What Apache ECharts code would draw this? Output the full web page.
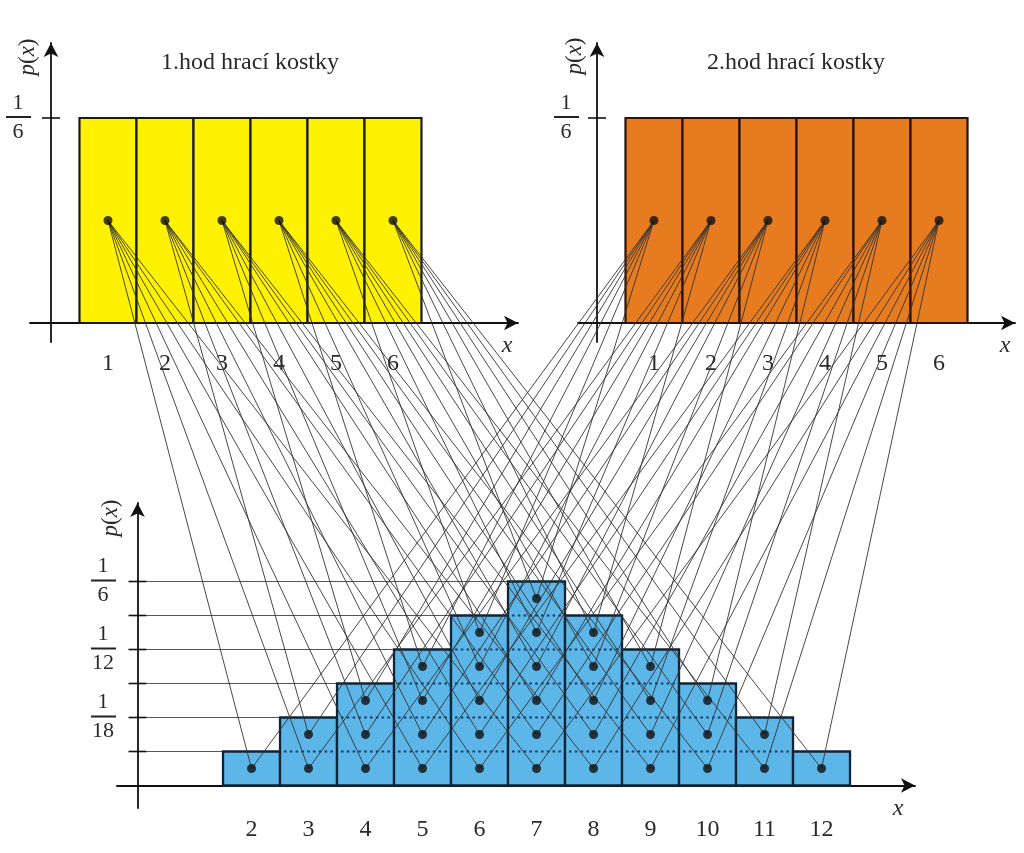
<!DOCTYPE html>
<html><head><meta charset="utf-8">
<script src="https://cdn.jsdelivr.net/npm/echarts@6/dist/echarts.min.js"></script>
<style>html,body{margin:0;padding:0;background:#fff}#c{width:1024px;height:853px}</style>
</head><body><div id="c"></div>
<script>
// ---------- data ----------
const faces = [1, 2, 3, 4, 5, 6];
const die1Prob = [1/6, 1/6, 1/6, 1/6, 1/6, 1/6];
const die2Prob = [1/6, 1/6, 1/6, 1/6, 1/6, 1/6];
const sums = [2, 3, 4, 5, 6, 7, 8, 9, 10, 11, 12];
const sumCounts = [1, 2, 3, 4, 5, 6, 5, 4, 3, 2, 1];   // out of 36
const outcomes = 36;
const topTickValues = [1/6];
const topTickLabels = ['1/6'];
const bottomTickValues = [1, 2, 3, 4, 5, 6].map(k => k / 36);
const bottomLabelValues = [2/36, 4/36, 6/36];          // positions as drawn in the picture
const bottomLabelTexts = ['1/18', '1/12', '1/6'];
const titles = ['1.hod hrací kostky', '2.hod hrací kostky'];

// ---------- styles ----------
const SERIF = '"Liberation Serif","Times New Roman",serif';
const INK = '#111';
const TXT = '#2a2a2a';

function fracFormatter(values, texts) {
  return function (v) {
    for (let i = 0; i < values.length; i++) {
      if (Math.abs(values[i] - v) < 1e-6) {
        const [n, d] = texts[i].split('/');
        return '{n|' + n + '}\n{l|\u00a0}\n{d|' + d + '}';
      }
    }
    return '';
  };
}
const fracRich = {
  n: { fontFamily: SERIF, fontSize: 22, color: TXT, lineHeight: 24, width: 26, align: 'center' },
  l: { width: 25, height: 2, lineHeight: 4, backgroundColor: '#222', fontSize: 2 },
  d: { fontFamily: SERIF, fontSize: 22, color: TXT, lineHeight: 26, width: 26, align: 'center' }
};

function xAxisDef(grid, min, max, labels, nameGap) {
  return {
    gridIndex: grid, type: 'value', min: min, max: max,
    splitLine: { show: false }, axisTick: { show: false },
    axisLine: { onZero: true, symbol: ['none', 'arrow'], symbolSize: [11, 14], lineStyle: { color: INK, width: 1.8 } },
    axisLabel: { customValues: labels, margin: 10, fontFamily: SERIF, fontSize: 24, color: TXT, hideOverlap: false },
    name: 'x', nameLocation: 'end', nameGap: nameGap,
    nameTextStyle: { fontFamily: SERIF, fontStyle: 'italic', fontSize: 24, color: TXT, align: 'center', verticalAlign: 'top', padding: [11, 0, 0, 0] }
  };
}
function yAxisDef(grid, min, max, labelValues, labelTexts, margin) {
  return {
    gridIndex: grid, type: 'value', min: min, max: max, position: 'left',
    splitLine: { show: false }, axisTick: { show: false },
    axisLine: { onZero: true, symbol: ['none', 'arrow'], symbolSize: [11, 14], lineStyle: { color: INK, width: 1.8 } },
    axisLabel: { customValues: labelValues, margin: margin, hideOverlap: false, showMinLabel: true, showMaxLabel: true,
      formatter: fracFormatter(labelValues, labelTexts), rich: fracRich }
  };
}

function barRender(fill, stroke, lw) {
  return function (params, api) {
    const x = api.value(0), h = api.value(1);
    const p1 = api.coord([x - 0.5, h]), p2 = api.coord([x + 0.5, 0]);
    return { type: 'rect', shape: { x: p1[0], y: p1[1], width: p2[0] - p1[0], height: p2[1] - p1[1] },
      style: { fill: fill, stroke: stroke, lineWidth: lw } };
  };
}
function sumBarRender(params, api) {
  const x = api.value(0), h = api.value(1), cnt = api.value(2);
  const p1 = api.coord([x - 0.5, h]), p2 = api.coord([x + 0.5, 0]);
  const children = [{ type: 'rect', shape: { x: p1[0], y: p1[1], width: p2[0] - p1[0], height: p2[1] - p1[1] },
    style: { fill: '#5CB6E8', stroke: '#0f2436', lineWidth: 2.3 } }];
  for (let k = 1; k < cnt; k++) {
    const a = api.coord([x - 0.5, k / outcomes]), b = api.coord([x + 0.5, k / outcomes]);
    children.push({ type: 'line', shape: { x1: a[0] + 4, y1: a[1], x2: b[0] - 3, y2: b[1] },
      style: { stroke: '#143a66', lineWidth: 2, lineDash: [2.5, 3.3] } });
  }
  return { type: 'group', children: children };
}
function crossTickRender(params, api) {
  const p = api.coord([0, api.value(1)]);
  return { type: 'line', shape: { x1: p[0] - 9, y1: p[1], x2: p[0] + 9, y2: p[1] }, style: { stroke: INK, lineWidth: 1.6 } };
}
function gridLineRender(params, api) {
  const v = api.value(1), xe = api.value(2);
  const a = api.coord([0, v]), b = api.coord([xe, v]);
  return { type: 'line', shape: { x1: a[0] + 9, y1: a[1], x2: b[0], y2: b[1] }, style: { stroke: '#555', lineWidth: 1.1 } };
}

// ---------- derived series data ----------
const die1Bars = faces.map((f, i) => [f, die1Prob[i]]);
const die2Bars = faces.map((f, i) => [f, die2Prob[i]]);
const sumBars = sums.map((s, i) => [s, sumCounts[i] / outcomes, sumCounts[i]]);
const die1Dots = faces.map((f, i) => [f, die1Prob[i] / 2]);
const die2Dots = faces.map((f, i) => [f, die2Prob[i] / 2]);
const sumDots = [];
sums.forEach((s, i) => { for (let l = 0; l < sumCounts[i]; l++) sumDots.push([s, (l + 0.5) / outcomes]); });
const levelLines = [1, 2, 3, 4, 5, 6].map(k => {
  const idx = sumCounts.findIndex(c => c >= k);
  return [0, k / outcomes, sums[idx] - 0.5];
});

const chart = echarts.init(document.getElementById('c'), null, { renderer: 'canvas' });
const dotStyle = { color: INK };
chart.setOption({
  animation: false,
  backgroundColor: '#fff',
  grid: [
    { left: 30, top: 43, width: 488, height: 299, outerBoundsMode: 'none' },
    { left: 578, top: 43, width: 437, height: 299, outerBoundsMode: 'none' },
    { left: 117, top: 503, width: 798, height: 305, outerBoundsMode: 'none' }
  ],
  xAxis: [
    xAxisDef(0, -0.368, 8.193, faces, -11),
    xAxisDef(1, -0.333, 7.333, faces, -10),
    xAxisDef(2, -0.36, 13.64, sums, -17)
  ],
  yAxis: [
    yAxisDef(0, -0.01545, 0.22764, topTickValues, topTickLabels, -1),
    yAxisDef(1, -0.01545, 0.22764, topTickValues, topTickLabels, -1),
    yAxisDef(2, -0.01838, 0.2308, bottomLabelValues, bottomLabelTexts, 1)
  ],
  series: [
    { type: 'custom', xAxisIndex: 2, yAxisIndex: 2, z: 1, data: levelLines, renderItem: gridLineRender },
    { type: 'custom', xAxisIndex: 0, yAxisIndex: 0, z: 2, data: die1Bars, renderItem: barRender('#FFF200', '#1a1a1a', 2.2) },
    { type: 'custom', xAxisIndex: 1, yAxisIndex: 1, z: 2, data: die2Bars, renderItem: barRender('#E77B1F', '#2a1408', 2.2) },
    { type: 'custom', xAxisIndex: 2, yAxisIndex: 2, z: 2, data: sumBars, renderItem: sumBarRender },
    { type: 'custom', xAxisIndex: 0, yAxisIndex: 0, z: 2, data: topTickValues.map(v => [0, v]), renderItem: crossTickRender },
    { type: 'custom', xAxisIndex: 1, yAxisIndex: 1, z: 2, data: topTickValues.map(v => [0, v]), renderItem: crossTickRender },
    { type: 'custom', xAxisIndex: 2, yAxisIndex: 2, z: 2, data: bottomTickValues.map(v => [0, v]), renderItem: crossTickRender },
    { type: 'scatter', xAxisIndex: 0, yAxisIndex: 0, z: 6, symbolSize: 9, itemStyle: dotStyle, data: die1Dots },
    { type: 'scatter', xAxisIndex: 1, yAxisIndex: 1, z: 6, symbolSize: 9, itemStyle: dotStyle, data: die2Dots },
    { type: 'scatter', xAxisIndex: 2, yAxisIndex: 2, z: 6, symbolSize: 9, itemStyle: dotStyle, data: sumDots }
  ]
});

// ---------- connecting lines (pixel positions from the library scales) ----------
const elements = [];
faces.forEach((i, ii) => faces.forEach((j, jj) => {
  const s = i + j;
  const lvl = i - Math.max(1, s - 6);
  const b = chart.convertToPixel({ xAxisIndex: 2, yAxisIndex: 2 }, [s, (lvl + 0.5) / outcomes]);
  const a = chart.convertToPixel({ xAxisIndex: 0, yAxisIndex: 0 }, [i, die1Prob[ii] / 2]);
  const c = chart.convertToPixel({ xAxisIndex: 1, yAxisIndex: 1 }, [j, die2Prob[jj] / 2]);
  [a, c].forEach(p => elements.push({ type: 'line', z: 4, silent: true,
    shape: { x1: p[0], y1: p[1], x2: b[0], y2: b[1] }, style: { stroke: '#333', lineWidth: 0.9 } }));
}));
// titles
[[250, 63], [796, 63]].forEach((pos, k) => elements.push({ type: 'text', z: 10, x: pos[0], y: pos[1],
  style: { text: titles[k], fontFamily: SERIF, fontSize: 24, fill: TXT, align: 'center', verticalAlign: 'middle' } }));
// p(x) labels
[[28, 57], [575, 56], [111, 518]].forEach(pos => elements.push({ type: 'text', z: 10, x: pos[0], y: pos[1], rotation: Math.PI / 2,
  style: { text: '{i|p}({i|x})', fontFamily: SERIF, fontSize: 23, fill: TXT, align: 'center', verticalAlign: 'middle',
    rich: { i: { fontFamily: SERIF, fontSize: 23, fontStyle: 'italic', fill: TXT } } } }));
chart.setOption({ graphic: { elements: elements } });
</script></body></html>
